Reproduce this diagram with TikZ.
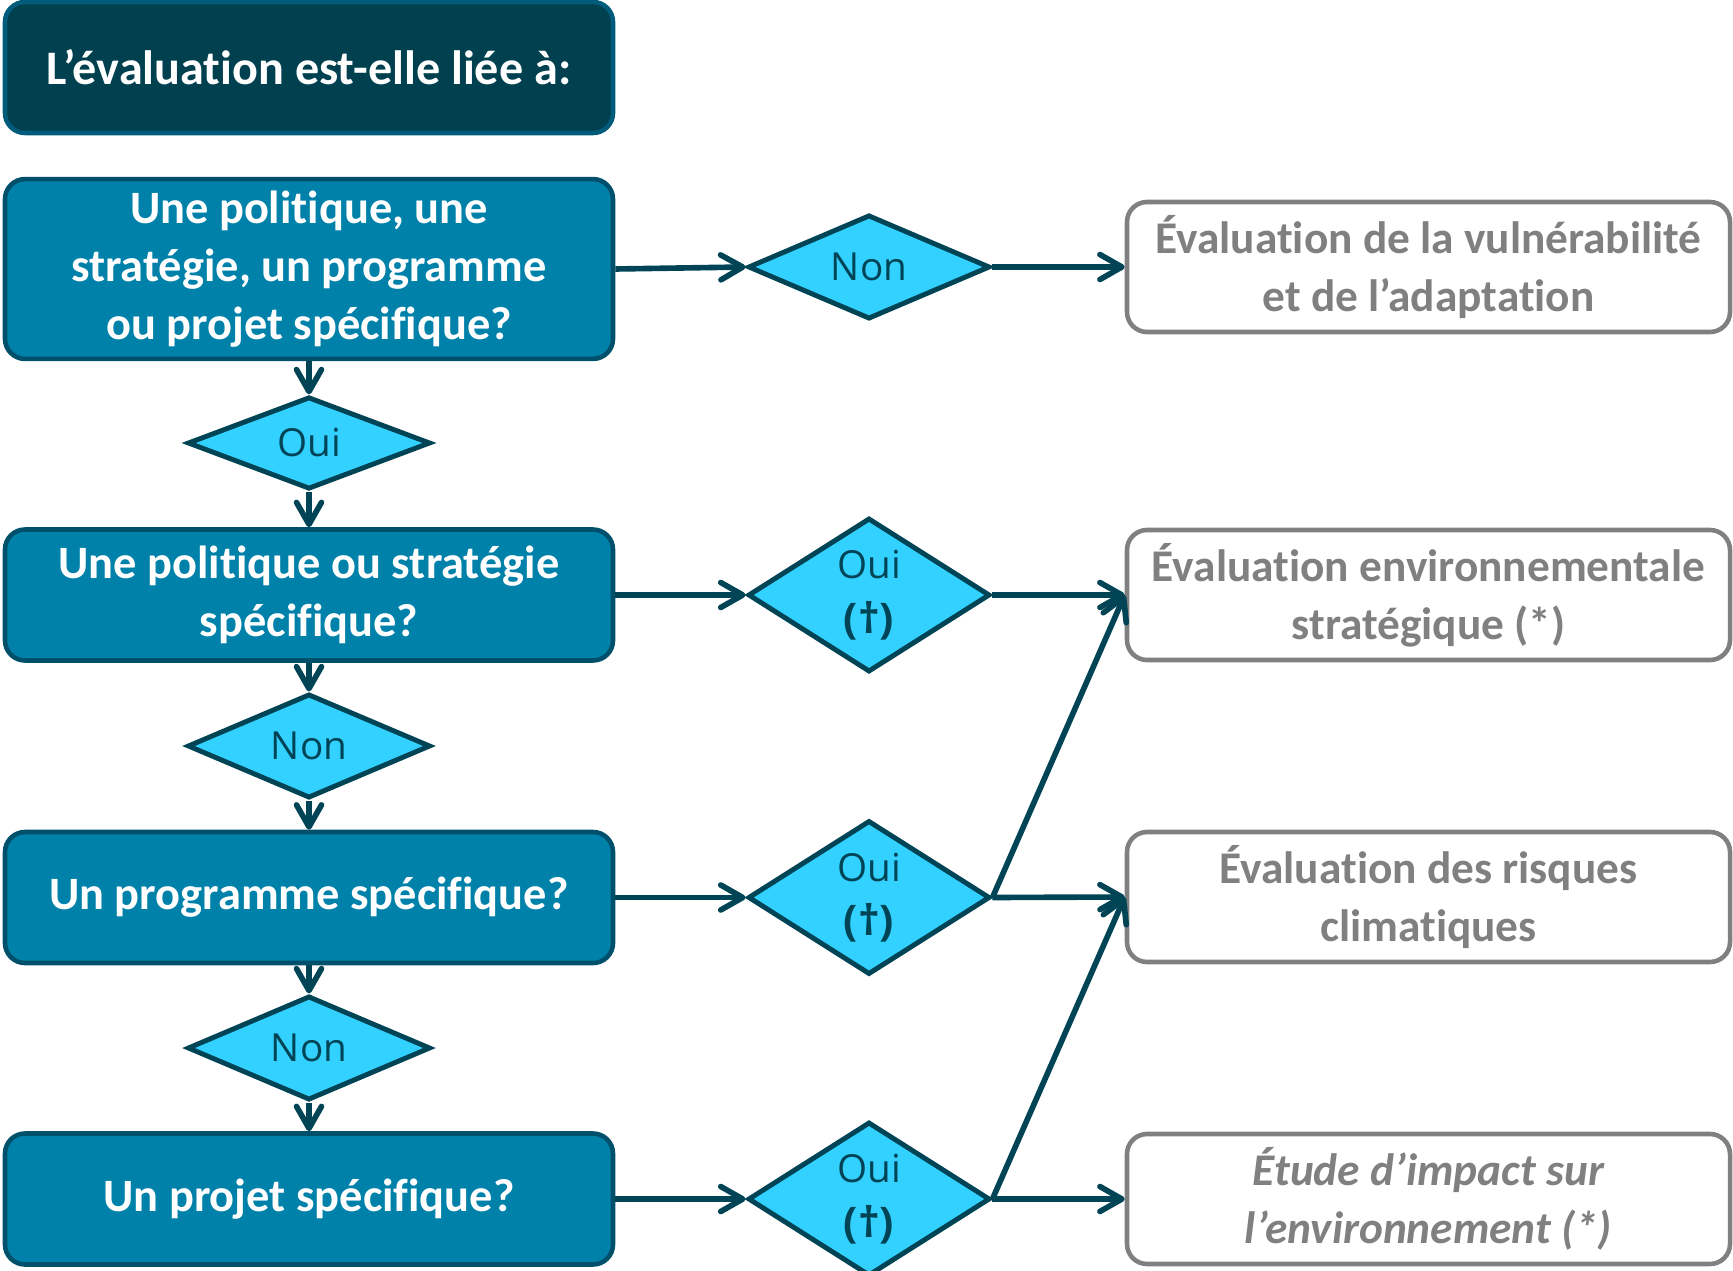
\documentclass[tikz,border=0pt]{standalone}
\usepackage{fontspec}
\setmainfont{Carlito}[Ligatures=NoCommon]
\newfontfamily\diafont{Open Sans}
\usetikzlibrary{shapes.geometric,arrows.meta}

\definecolor{headfill}{HTML}{00404F}
\definecolor{headline}{HTML}{005C7A}
\definecolor{boxfill}{HTML}{0081AA}
\definecolor{boxline}{HTML}{00506C}
\definecolor{diafill}{HTML}{33D1FF}
\definecolor{arrowcol}{HTML}{004456}
\definecolor{outgray}{HTML}{808080}

\tikzset{
  qbox/.style={draw=boxline,fill=boxfill,line width=1.3pt,rounded corners=0.2cm,
    minimum width=6.08cm,minimum height=1.31cm,align=center,text=white,
    font=\fontsize{13.2}{16.5}\selectfont\bfseries},
  choice/.style={diamond,draw=arrowcol,fill=diafill,line width=1.4pt,inner sep=0pt,
    text=arrowcol,align=center,font=\diafont\fontsize{11}{15.5}\selectfont},
  small choice/.style={choice,minimum width=2.43cm,minimum height=0.89cm},
  big choice/.style={choice,minimum width=2.42cm,minimum height=1.54cm},
  outbox/.style={draw=outgray,fill=white,line width=1.3pt,rounded corners=0.2cm,
    minimum width=6.03cm,minimum height=1.3cm,align=center,text=outgray,
    font=\fontsize{12.9}{16.5}\selectfont\bfseries},
  link/.style={->,draw=arrowcol,line width=1.6pt}
}

\begin{document}
\begin{tikzpicture}[scale=1.0,>={Straight Barb[length=2.2mm,width=2.5mm,round]}]

\useasboundingbox (0,0) rectangle (17.33,-12.71);

% questions
\node[qbox,fill=headfill,draw=headline,font=\fontsize{13.7}{16.5}\selectfont\bfseries] (head) at (3.09,-0.675) {L’évaluation est-elle liée à:};
\node[qbox,minimum height=1.77cm] (q1) at (3.09,-2.69) {Une politique, une\\stratégie, un programme\\ou projet spécifique?};
\node[qbox] (q2) at (3.09,-5.95) {Une politique ou stratégie\\spécifique?};
\node[qbox] (q3) at (3.09,-8.975) {Un programme spécifique?};
\node[qbox] (q4) at (3.09,-11.99) {Un projet spécifique?};

% answers down the left
\node[small choice] (a1) at (3.09,-4.43) {Oui};
\node[small choice] (a2) at (3.09,-7.46) {Non};
\node[small choice] (a3) at (3.09,-10.48) {Non};

% answers to the right
\node[big choice,minimum height=0.92cm] (b1) at (8.69,-2.67) {Non};
\node[big choice] (b2) at (8.69,-5.95) {Oui\\\textbf{\large(†)}};
\node[big choice] (b3) at (8.69,-8.975) {Oui\\\textbf{\large(†)}};
\node[big choice] (b4) at (8.69,-11.99) {Oui\\\textbf{\large(†)}};

% outcomes
\node[outbox] (r1) at (14.285,-2.67) {Évaluation de la vulnérabilité\\et de l’adaptation};
\node[outbox] (r2) at (14.285,-5.95) {Évaluation environnementale\\stratégique (*)};
\node[outbox] (r3) at (14.285,-8.97) {Évaluation des risques\\climatiques};
\node[outbox,font=\fontsize{12.9}{16.5}\selectfont\bfseries\itshape] (r4) at (14.285,-11.99) {Étude d’impact sur\\l’environnement (*)};

% vertical links
\draw[link] (q1) -- (a1);
\draw[link] (a1) -- (q2);
\draw[link] (q2) -- (a2);
\draw[link] (a2) -- (q3);
\draw[link] (q3) -- (a3);
\draw[link] (a3) -- (q4);

% horizontal links
\draw[link] (q1.east) -- (b1.west);
\draw[link] (q2.east) -- (b2.west);
\draw[link] (q3.east) -- (b3.west);
\draw[link] (q4.east) -- (b4.west);
\draw[link] (b1.east) -- (r1.west);
\draw[link] (b2.east) -- (r2.west);
\draw[link] (b3.east) -- (r3.west);
\draw[link] (b4.east) -- (r4.west);

% diagonals
\draw[link] (b3.east) -- (r2.west);
\draw[link] (b4.east) -- (r3.west);

\end{tikzpicture}
\end{document}
